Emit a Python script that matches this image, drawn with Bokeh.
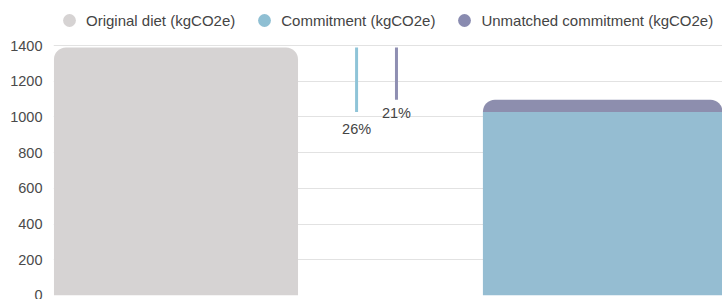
from bokeh.plotting import figure
from bokeh.models import (Range1d, FixedTicker, Legend, LegendItem)
from bokeh.embed import file_html
from bokeh.resources import INLINE
from bokeh.core.properties import value

# ---- data ----
categories = ["Original diet", "Commitment"]
original_diet = [1389, 0]
commitment = [0, 1027]
unmatched_commitment = [0, 69]
reduction_labels = ["26%", "21%"]
y_ticks = [0, 200, 400, 600, 800, 1000, 1200, 1400]
legend_labels = ["Original diet (kgCO2e)", "Commitment (kgCO2e)",
                 "Unmatched commitment (kgCO2e)"]

GRAY = "#d6d3d3"
BLUE = "#95bdd2"
PURPLE = "#8d8eae"
FONT = "Liberation Sans"

idx = list(range(len(categories)))
bar_w = 0.569

# frame spans the whole height; the region above 1400 hosts the legend
p = figure(width=722, height=299, output_backend="svg", toolbar_location=None,
           x_range=Range1d(-0.2855, 1.274), y_range=Range1d(0, 1652),
           min_border_left=53, min_border_right=0, min_border_bottom=4, min_border_top=0)
p.outline_line_color = None

# original diet bar
p.vbar(x=[idx[0]], top=[original_diet[0]], bottom=0, width=bar_w,
       fill_color=GRAY, line_color=None, border_radius=(12, 12, 0, 0))
# commitment stacked bar
p.vbar(x=[idx[1]], top=[commitment[1]], bottom=0, width=bar_w,
       fill_color=BLUE, line_color=None)
p.vbar(x=[idx[1]], top=[commitment[1] + unmatched_commitment[1]],
       bottom=[commitment[1]], width=bar_w,
       fill_color=PURPLE, line_color=None, border_radius=(12, 12, 0, 0))

# reduction indicator lines
orig_val = original_diet[0]
ends = [commitment[1], commitment[1] + unmatched_commitment[1]]
line_x = [0.421, 0.514]
p.segment(x0=line_x, x1=line_x, y0=[orig_val, orig_val], y1=ends,
          line_color=["#8fc4d8", "#8f8fb2"], line_width=3)
p.text(x=line_x, y=ends, text=reduction_labels, text_align="center",
       text_baseline="top", y_offset=[9, 5], text_font=value(FONT),
       text_font_size="14.5px", text_color="#444444")

# axes
p.xaxis.visible = False
p.yaxis.ticker = FixedTicker(ticks=y_ticks)
p.yaxis.axis_line_color = None
p.yaxis.major_tick_line_color = None
p.yaxis.minor_tick_line_color = None
p.yaxis.major_label_standoff = 5
p.yaxis.major_label_text_font = FONT
p.yaxis.major_label_text_font_size = "14.5px"
p.yaxis.major_label_text_color = "#4a4a4a"
p.xgrid.grid_line_color = None
p.ygrid.ticker = FixedTicker(ticks=y_ticks)
p.ygrid.grid_line_color = "#e2e2e2"
p.ygrid.grid_line_width = 1

# legend with circle markers (size-0 proxies so only the legend glyph shows)
colors = [GRAY, "#8fbfd3", "#898bb0"]
items = []
for lab, c in zip(legend_labels, colors):
    s = p.scatter(x=[idx[0]], y=[0], size=0, marker="circle",
                  fill_color=c, line_color=None)
    items.append(LegendItem(label=lab, renderers=[s]))
legend = Legend(items=items, orientation="horizontal", location=(0, 259))
legend.glyph_width = 32
legend.glyph_height = 32
legend.label_standoff = 1
legend.spacing = 13
legend.padding = 0
legend.margin = 0
legend.border_line_color = None
legend.background_fill_alpha = 0
legend.label_text_font = FONT
legend.label_text_font_size = "15px"
legend.label_text_color = "#444444"
p.add_layout(legend)

open("out.html", "w").write(file_html(p, INLINE))
